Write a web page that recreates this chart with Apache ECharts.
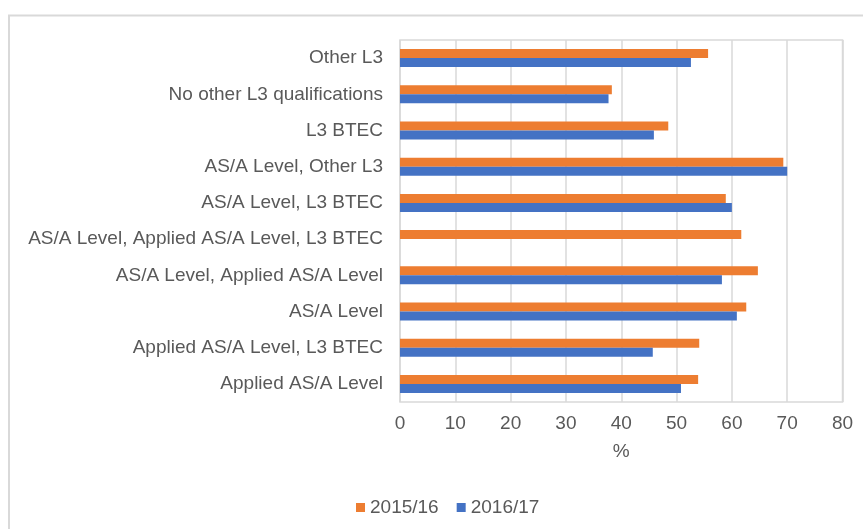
<!DOCTYPE html>
<html>
<head>
<meta charset="utf-8">
<script src="https://cdn.jsdelivr.net/npm/echarts@6/dist/echarts.min.js"></script>
<style>html,body{margin:0;padding:0;background:#fff;}#c{width:863px;height:529px;}</style>
</head>
<body>
<div id="c"></div>
<script>
const categories = [
  'Applied AS/A Level',
  'Applied AS/A Level, L3 BTEC',
  'AS/A Level',
  'AS/A Level, Applied AS/A Level',
  'AS/A Level, Applied AS/A Level, L3 BTEC',
  'AS/A Level, L3 BTEC',
  'AS/A Level, Other L3',
  'L3 BTEC',
  'No other L3 qualifications',
  'Other L3'
];
const values2015 = [53.9, 54.1, 62.6, 64.7, 61.7, 58.9, 69.3, 48.5, 38.3, 55.7];
const values2016 = [50.8, 45.7, 60.9, 58.2, null, 60.0, 70.0, 45.9, 37.7, 52.6];
const xTicks = [0, 10, 20, 30, 40, 50, 60, 70, 80];

const chart = echarts.init(document.getElementById('c'), null, {renderer: 'canvas'});
const font = 'Liberation Sans, Arial, sans-serif';
chart.setOption({
  animation: false,
  textStyle: {fontFamily: font},
  graphic: [{
    type: 'rect', silent: true, z: -10,
    shape: {x: 9, y: 15.5, width: 900, height: 600},
    style: {fill: 'none', stroke: '#d9d9d9', lineWidth: 2}
  }],
  grid: {left: 400, right: 20.5, top: 40, bottom: 127, show: true, borderColor: '#d9d9d9', borderWidth: 1.5},
  legend: {
    left: 351, top: 493,
    itemWidth: 9, itemHeight: 9, itemGap: 18,
    icon: 'rect',
    textStyle: {fontSize: 19, color: '#595959', fontFamily: font, padding: [0, 0, 0, 0]},
    data: ['2015/16', '2016/17']
  },
  xAxis: {
    type: 'value', min: xTicks[0], max: xTicks[xTicks.length - 1], interval: 10,
    name: '%', nameLocation: 'middle', nameGap: 40,
    nameTextStyle: {fontSize: 19, color: '#595959', fontFamily: font, verticalAlign: 'top'},
    axisLine: {show: false}, axisTick: {show: false},
    axisLabel: {fontSize: 19, color: '#595959', margin: 12, fontFamily: font},
    splitLine: {lineStyle: {color: '#d9d9d9', width: 1.5}}
  },
  yAxis: {
    type: 'category', data: categories,
    axisLine: {show: false}, axisTick: {show: false},
    axisLabel: {fontSize: 19, color: '#595959', margin: 17, fontFamily: font},
    splitLine: {show: false}
  },
  series: [
    {name: '2015/16', type: 'bar', data: values2015, barWidth: 9, barGap: '0%', itemStyle: {color: '#ED7D31'}},
    {name: '2016/17', type: 'bar', data: values2016, barWidth: 9, barGap: '0%', itemStyle: {color: '#4472C4'}}
  ]
});
</script>
</body>
</html>
